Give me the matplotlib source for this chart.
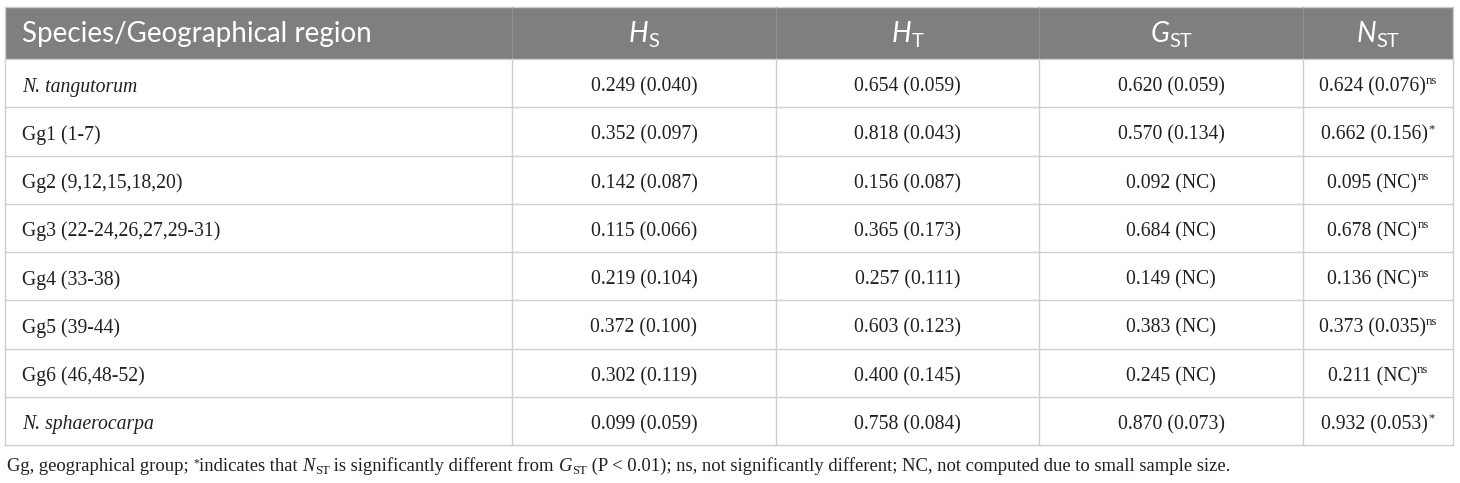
import matplotlib
matplotlib.use("Agg")
import matplotlib.pyplot as plt
from matplotlib.font_manager import FontProperties

# ---------------- data ----------------
regions = ["N. tangutorum", "Gg1 (1-7)", "Gg2 (9,12,15,18,20)",
           "Gg3 (22-24,26,27,29-31)", "Gg4 (33-38)", "Gg5 (39-44)",
           "Gg6 (46,48-52)", "N. sphaerocarpa"]
region_italic = [True, False, False, False, False, False, False, True]
hs_mean = [0.249, 0.352, 0.142, 0.115, 0.219, 0.372, 0.302, 0.099]
hs_se = [0.040, 0.097, 0.087, 0.066, 0.104, 0.100, 0.119, 0.059]
ht_mean = [0.654, 0.818, 0.156, 0.365, 0.257, 0.603, 0.400, 0.758]
ht_se = [0.059, 0.043, 0.087, 0.173, 0.111, 0.123, 0.145, 0.084]
gst_mean = [0.620, 0.570, 0.092, 0.684, 0.149, 0.383, 0.245, 0.870]
gst_se = [0.059, 0.134, None, None, None, None, None, 0.073]
nst_mean = [0.624, 0.662, 0.095, 0.678, 0.136, 0.373, 0.211, 0.932]
nst_se = [0.076, 0.156, None, None, None, 0.035, None, 0.053]
nst_sig = ["ns", "*", "ns", "ns", "ns", "ns", "ns", "*"]
header_main = ["Species/Geographical region", "H", "H", "G", "N"]
header_sub = [None, "S", "T", "ST", "ST"]

# ---------------- layout ----------------
W, H = 1460, 483
fig = plt.figure(figsize=(W / 100, H / 100), dpi=100)
ax = fig.add_axes([0, 0, 1, 1])
ax.set_xlim(0, W)
ax.set_ylim(H, 0)
ax.axis("off")
renderer = fig.canvas.get_renderer()

col_x = [5, 512, 776, 1039, 1303, 1453]
top = 7
head_bot = 59
row_h = 48.25
n = len(regions)
row_y = [head_bot + i * row_h for i in range(n + 1)]

HEAD_BG = "#7f7f7f"
LINE = "#cfcfcf"
TXT = "#231f20"

body_size = 14.2
head_size = 20.0
foot_size = 13.4

serif = dict(family="Liberation Serif")
sans = dict(family="Lato")


def fp(base, size, style="normal"):
    return FontProperties(family=base["family"], size=size, style=style)


def width(txt, prop):
    w1, _, _ = renderer.get_text_width_height_descent("|" + txt + "|", prop, ismath=False)
    w0, _, _ = renderer.get_text_width_height_descent("||", prop, ismath=False)
    return w1 - w0


def draw_runs(x, y, runs, ha="center", color=TXT):
    total = sum(width(t, p) for t, p, dy in runs)
    cx = x - total / 2 if ha == "center" else x
    for t, p, dy in runs:
        ax.text(cx, y + dy, t, fontproperties=p, va="baseline", ha="left", color=color)
        cx += width(t, p)


# header background
ax.add_patch(plt.Rectangle((col_x[0], top), col_x[-1] - col_x[0], head_bot - top,
                           facecolor=HEAD_BG, edgecolor="none", zorder=0))

# lines
ax.plot([col_x[0], col_x[-1]], [top, top], color=LINE, lw=1.0)
for yy in row_y:
    ax.plot([col_x[0], col_x[-1]], [yy, yy], color=LINE, lw=1.0)
for i, xx in enumerate(col_x):
    if i in (0, len(col_x) - 1):
        ax.plot([xx, xx], [top, row_y[-1]], color=LINE, lw=1.0)
    else:
        ax.plot([xx, xx], [top, head_bot], color="#999999", lw=0.6)
        ax.plot([xx, xx], [head_bot, row_y[-1]], color=LINE, lw=1.0)

# header text
hy = 42
draw_runs(22, hy, [(header_main[0], fp(sans, head_size), 0)], ha="left", color="white")
for j in range(1, 5):
    cx = (col_x[j] + col_x[j + 1]) / 2
    draw_runs(cx, hy, [(header_main[j], fp(sans, head_size, "italic"), 0),
                       (header_sub[j], fp(sans, head_size * 0.72), 5)],
              color="white")

# body
bfp = fp(serif, body_size)
bifp = fp(serif, body_size, "italic")
supfp = fp(serif, body_size * 0.65)


def fmt(m, s):
    return f"{m:.3f} ({s:.3f})" if s is not None else f"{m:.3f} (NC)"


for i in range(n):
    yb = (row_y[i] + row_y[i + 1]) / 2 + 8.5
    draw_runs(22, yb, [(regions[i], bifp if region_italic[i] else bfp, 0)], ha="left")
    cols = [fmt(hs_mean[i], hs_se[i]), fmt(ht_mean[i], ht_se[i]),
            fmt(gst_mean[i], gst_se[i])]
    for j, s in enumerate(cols):
        cx = (col_x[j + 1] + col_x[j + 2]) / 2
        draw_runs(cx, yb, [(s, bfp, 0)])
    cx = (col_x[4] + col_x[5]) / 2
    draw_runs(cx, yb, [(fmt(nst_mean[i], nst_se[i]), bfp, 0),
                       (nst_sig[i], supfp, -8)])

# footnote
ffp = fp(serif, foot_size)
fifp = fp(serif, foot_size, "italic")
fsub = fp(serif, foot_size * 0.68)
fsup = fp(serif, foot_size * 0.62)
fy = 471
draw_runs(7, fy, [
    ("Gg, geographical group; ", ffp, 0),
    ("*", fsup, -5),
    ("indicates that ", ffp, 0),
    ("N", fifp, 0), ("ST", fsub, 3),
    (" is significantly different from ", ffp, 0),
    ("G", fifp, 0), ("ST", fsub, 3),
    (" (P < 0.01); ns, not significantly different; NC, not computed due to small sample size.", ffp, 0),
], ha="left")

fig.savefig("out.png", dpi=100)
